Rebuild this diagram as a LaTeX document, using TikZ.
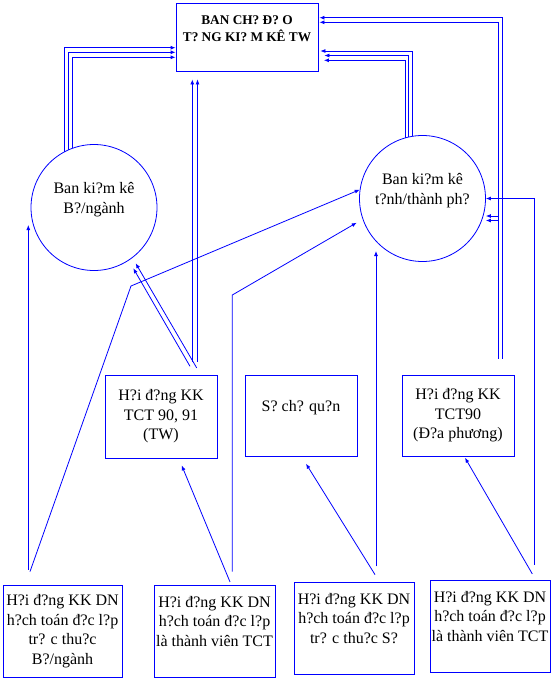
\documentclass[tikz,border=0pt]{standalone}
\usepackage{fontspec}
\setmainfont{Liberation Serif}
\usetikzlibrary{arrows.meta,calc}
\definecolor{kkblue}{HTML}{0000FF}
\definecolor{ink}{HTML}{000000}

\begin{document}
\begin{tikzpicture}[x=1pt,y=-1pt,
  box/.style={draw=kkblue,line width=0.8pt,inner sep=0pt,align=center,text=ink,
    font=\fontsize{16pt}{19.5pt}\selectfont},
  ring/.style={box,circle,minimum size=126pt},
  arr/.style={draw=kkblue,line width=0.8pt,-{Latex[length=5pt,width=4pt]}}]
\useasboundingbox (0,0) rectangle (554,681);

% top level
\node[box,minimum width=142pt,minimum height=68pt,
  font=\fontsize{13.3pt}{17pt}\selectfont\bfseries] (top) at (247,37)
  {BAN CH? Đ? O\\T? NG KI? M KÊ TW\\ \mbox{}};

% two boards
\node[ring] (bo) at (94,207.5) {Ban ki?m kê\\B?/ngành\\ \mbox{}};
\node[ring] (tinh) at (422.5,198.5) {Ban ki?m kê\\t?nh/thành ph?\\ \mbox{}};

% middle row
\node[box,minimum width=112pt,minimum height=83pt] (tw) at (161,416.5)
  {H?i đ?ng KK\\TCT 90, 91\\(TW)};
\node[box,minimum width=112pt,minimum height=81pt] (so) at (301,415.5)
  {S? ch? qu?n\\ \mbox{}};
\node[box,minimum width=112pt,minimum height=81pt] (dp) at (458,415.5)
  {H?i đ?ng KK\\TCT90\\(Đ?a phương)};

% bottom row
\node[box,minimum width=119pt,minimum height=92pt] (dnbo) at (62.5,631)
  {H?i đ?ng KK DN\\h?ch toán đ?c l?p\\tr? c thu?c\\B?/ngành};
\node[box,minimum width=121pt,minimum height=92pt] (dntw) at (214.5,631)
  {H?i đ?ng KK DN\\h?ch toán đ?c l?p\\là thành viên TCT\\ \mbox{}};
\node[box,minimum width=120pt,minimum height=92pt] (dnso) at (354,628)
  {H?i đ?ng KK DN\\h?ch toán đ?c l?p\\tr? c thu?c S?\\ \mbox{}};
\node[box,minimum width=120pt,minimum height=92pt] (dndp) at (490,626)
  {H?i đ?ng KK DN\\h?ch toán đ?c l?p\\là thành viên TCT\\ \mbox{}};

% boards up to the top
\draw[arr] (bo.118) |- ($(top.west)+(0,10.7)$);
\draw[arr] (bo.114) |- ($(top.west)+(0,15.3)$);
\draw[arr] (bo.110) |- ($(top.west)+(0,20.3)$);
\draw[arr] (tinh.99) |- ($(top.east)+(2,14)$);
\draw[arr] (tinh.103) |- ($(top.east)+(6,18.5)$);
\draw[arr] (tinh.106) |- ($(top.east)+(5.5,23.3)$);

% TCT 90, 91 (TW)
\coordinate (twa) at ($(tw.north)+(31.3,-13)$);
\coordinate (twb) at ($(tw.north)+(36.5,-13)$);
\draw[arr,shorten >=8pt] (twa) -- (twa |- top.south);
\draw[arr,shorten >=8pt] (twb) -- (twb |- top.south);
\draw[arr] ($(tw.north)+(29,-8.3)$) -- ($(bo.center)+(39.3,60.8)$);
\draw[arr] ($(tw.north)+(35.7,-6.7)$) -- ($(bo.center)+(41.7,55.8)$);

% TCT90 (local)
\coordinate (dpa) at ($(dp.north)+(40.5,-16)$);
\coordinate (dpb) at ($(dp.north)+(44.5,-16)$);
\draw[arr] (dpa) |- ($(top.east)+(1,-14.7)$);
\draw[arr] (dpb) |- ($(top.east)+(1,-19.3)$);
\coordinate (bra) at ($(dpa |- tinh.east)+(0,17.5)$);
\coordinate (brb) at ($(dpa |- tinh.east)+(0,22)$);
\draw[arr] (bra) -- (bra -| tinh.east);
\draw[arr] (brb) -- (brb -| tinh.east);

% enterprises, ministry
\coordinate (bo1) at ($(dnbo.north)+(-34.2,-15)$);
\draw[arr] (bo1) -- ($(bo1 |- bo.center)+(0,17.5)$);
\coordinate (ka) at (131,286);
\draw[arr] ($(dnbo.north)+(-32.5,-13)$) -- (ka) -- (tinh.172);

% enterprises, member of TCT
\coordinate (tw1) at ($(dntw.north)+(17.8,-13)$);
\coordinate (kb) at (232.3,295);
\draw[arr] (tw1) -- (kb) -- ($(tinh.center)+(-65.8,24.2)$);
\draw[arr] ($(dntw.north)+(15.5,-2.7)$) -- ($(tw.south)+(20.7,7)$);

% enterprises, department
\coordinate (so1) at ($(dnso.north)+(22,-15.3)$);
\draw[arr] ($(dnso.north)+(21,-7)$) -- ($(so.south)+(5,7.3)$);
\draw[arr] (so1) -- ($(so1 |- tinh.center)+(0,52.5)$);

% enterprises, local TCT
\draw[arr] ($(dndp.north)+(42.3,-5.7)$) -- ($(dp.south)+(7,1.3)$);
\draw[arr] ($(dndp.north)+(44.3,-15)$) |- (tinh.east);
\end{tikzpicture}
\end{document}
